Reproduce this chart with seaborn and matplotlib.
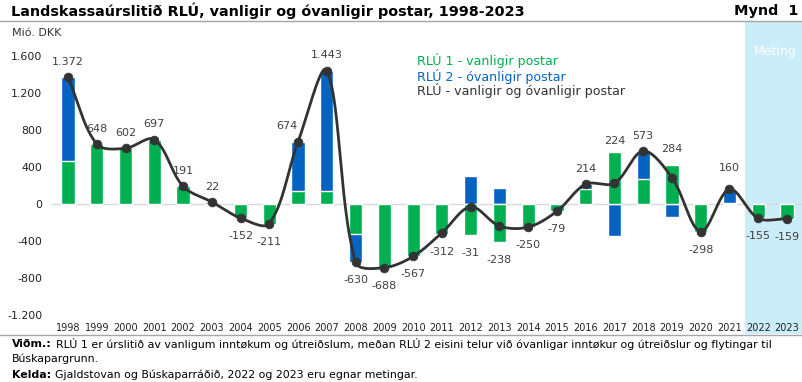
import numpy as np
import pandas as pd
import matplotlib
matplotlib.use("Agg")
import matplotlib.pyplot as plt
import seaborn as sns
from matplotlib.patches import Rectangle
from matplotlib.lines import Line2D

# data (mió. DKK)
years = [str(y) for y in range(1998, 2024)]
total = [1372, 648, 602, 697, 191, 22, -152, -211, 674, 1443, -630, -688, -567,
         -312, -31, -238, -250, -79, 214, 224, 573, 284, -298, 160, -155, -159]
rlu1 = [470, 648, 602, 697, 191, 22, -152, -211, 140, 140, -320, -688, -567,
        -322, -330, -408, -250, -79, 160, 565, 267, 425, -298, 10, -155, -159]
rlu2 = [902, 0, 0, 0, 0, 0, 0, 0, 534, 1303, -310, 0, 0,
        10, 299, 170, 0, 0, 54, -341, 306, -141, 0, 150, 0, 0]
yticks = [-1200, -800, -400, 0, 400, 800, 1200, 1600]

GREEN = "#00B050"
BLUE = "#0563C1"
DARK = "#333333"
W, H = 803, 382

sns.set_theme(style="white")
plt.rcParams["font.family"] = ["DejaVu Sans"]

fig = plt.figure(figsize=(W / 100, H / 100), dpi=100)


def fx(px):
    return px / W


def fy(py):
    return 1 - py / H


# estimate band behind everything
fig.add_artist(Rectangle((fx(745), fy(334)), fx(803 - 745), (334 - 21) / H,
                         transform=fig.transFigure, color="#CBEDF9", zorder=-5, lw=0))

ax = fig.add_axes([fx(52), fy(319.6), fx(751), (319.6 - 30.1) / H])
ax.patch.set_alpha(0)

df = pd.DataFrame({"year": years, "total": total, "rlu1": rlu1, "rlu2": rlu2})
g = np.array(rlu1)
b = np.array(rlu2)
# same-sign parts stack on top of green, opposite sign start at zero
df["blue_draw"] = np.where(g * b > 0, g + b, b)

sns.barplot(data=df, x="year", y="blue_draw", color=BLUE, saturation=1,
            width=0.46, ax=ax, zorder=2)
sns.barplot(data=df, x="year", y="rlu1", color=GREEN, saturation=1,
            width=0.46, ax=ax, zorder=2)


def smooth(ys, sx=28.76, sy=0.0925, n=30):
    # excel-like smoothing: bezier with tangents scaled by segment lengths (in pixels)
    P = np.column_stack([np.arange(len(ys)) * sx, np.asarray(ys, float) * sy])
    m = len(P)
    d = np.linalg.norm(np.diff(P, axis=0), axis=1)
    T = np.zeros_like(P)
    T[1:-1] = P[2:] - P[:-2]
    T[0] = P[1] - P[0]
    T[-1] = P[-1] - P[-2]
    t = np.linspace(0, 1, n, endpoint=False)[:, None]
    pts = []
    for i in range(m - 1):
        dl = d[i - 1] if i > 0 else d[i]
        dr = d[i + 1] if i + 1 < m - 1 else d[i]
        f1 = d[i] / (dl + d[i]) / 3 if i > 0 else 1 / 3
        f2 = d[i] / (d[i] + dr) / 3 if i + 1 < m - 1 else 1 / 3
        c1 = P[i] + T[i] * f1
        c2 = P[i + 1] - T[i + 1] * f2
        seg = (1 - t) ** 3 * P[i] + 3 * (1 - t) ** 2 * t * c1 + 3 * (1 - t) * t ** 2 * c2 + t ** 3 * P[i + 1]
        pts.append(seg)
    pts.append(P[-1][None, :])
    out = np.vstack(pts)
    return out[:, 0] / sx, out[:, 1] / sy


cx, cy = smooth(total)
sns.lineplot(x=cx, y=cy, sort=False, estimator=None,
             color=DARK, lw=2.0, ax=ax, zorder=4)
sns.scatterplot(x=np.arange(len(years)), y=total, s=40, color=DARK,
                edgecolor=DARK, ax=ax, zorder=5)

ax.axhline(0, color="#D9D9D9", lw=1, zorder=1)

# value labels
label_shift = {"2006": (-8, 0), "2021": (0, 4), "2017": (0, -3)}
for i, (yr, t) in enumerate(zip(years, total)):
    pos_top = max(rlu1[i], 0) + max(rlu2[i], 0)
    neg_bot = min(rlu1[i], 0) + min(rlu2[i], 0)
    txt = f"{t:,}".replace(",", ".")
    dx, dy = label_shift.get(yr, (0, 0))
    if t >= 0:
        ax.annotate(txt, (i, max(pos_top, t)), xytext=(dx, 11 + dy),
                    textcoords="offset points", ha="center", va="center",
                    fontsize=8, color="#404040", zorder=6)
    else:
        ax.annotate(txt, (i, min(neg_bot, t)), xytext=(dx, -13 + dy),
                    textcoords="offset points", ha="center", va="center",
                    fontsize=8, color="#404040", zorder=6)

ax.set_xlim(-0.556, 25.556)
ax.set_ylim(-1250, 1880)
ax.set_yticks(yticks)
ax.set_yticklabels([f"{v:,}".replace(",", ".") for v in yticks])
ax.set_xlabel("")
ax.set_ylabel("")
ax.tick_params(axis="y", length=0, pad=7, labelsize=7.9, labelcolor="#222222")
ax.tick_params(axis="x", length=0, pad=2.5, labelsize=7, labelcolor="#222222")
sns.despine(ax=ax, left=True, bottom=True)

# legend as coloured text
fig.text(fx(417), fy(61), "RLÚ 1 - vanligir postar", color=GREEN, fontsize=9.1, va="center")
fig.text(fx(417), fy(76), "RLÚ 2 - óvanligir postar", color=BLUE, fontsize=9.1, va="center")
fig.text(fx(417), fy(90), "RLÚ - vanligir og óvanligir postar", color=DARK, fontsize=9.1, va="center")

fig.text(fx(775), fy(52), "Meting", color="white", fontsize=9, ha="center", va="center")
fig.text(fx(12), fy(33), "Mió. DKK", color=DARK, fontsize=8, va="center")

# title bar
fig.text(fx(11), fy(11), "Landskassaúrslitið RLÚ, vanligir og óvanligir postar, 1998-2023",
         fontsize=10.35, fontweight="bold", color="black", va="center")
fig.text(fx(798), fy(11), "Mynd  1", fontsize=10.35, fontweight="bold",
         color="black", va="center", ha="right")
fig.add_artist(Line2D([0, 1], [fy(21), fy(21)], transform=fig.transFigure,
                      color="#A6A6A6", lw=1))
fig.add_artist(Line2D([0, 1], [fy(335), fy(335)], transform=fig.transFigure,
                      color="#A6A6A6", lw=1))

# footnotes
fig.canvas.draw()
renderer = fig.canvas.get_renderer()
notes = [
    (344, "Viðm.:", "RLÚ 1 er úrslitið av vanligum inntøkum og útreiðslum, meðan RLÚ 2 eisini telur við óvanligar inntøkur og útreiðslur og flytingar til"),
    (359, "", "Búskapargrunn."),
    (375, "Kelda:", "Gjaldstovan og Búskaparráðið, 2022 og 2023 eru egnar metingar."),
]
for ypx, bold, rest in notes:
    x0 = 12
    if bold:
        tb = fig.text(fx(x0), fy(ypx), bold, fontsize=7.9, fontweight="bold",
                      color="black", va="center")
        x0 = tb.get_window_extent(renderer).x1 + 4
    fig.text(fx(x0), fy(ypx), rest, fontsize=7.9, color="black", va="center")

fig.savefig("out.png", dpi=100)
